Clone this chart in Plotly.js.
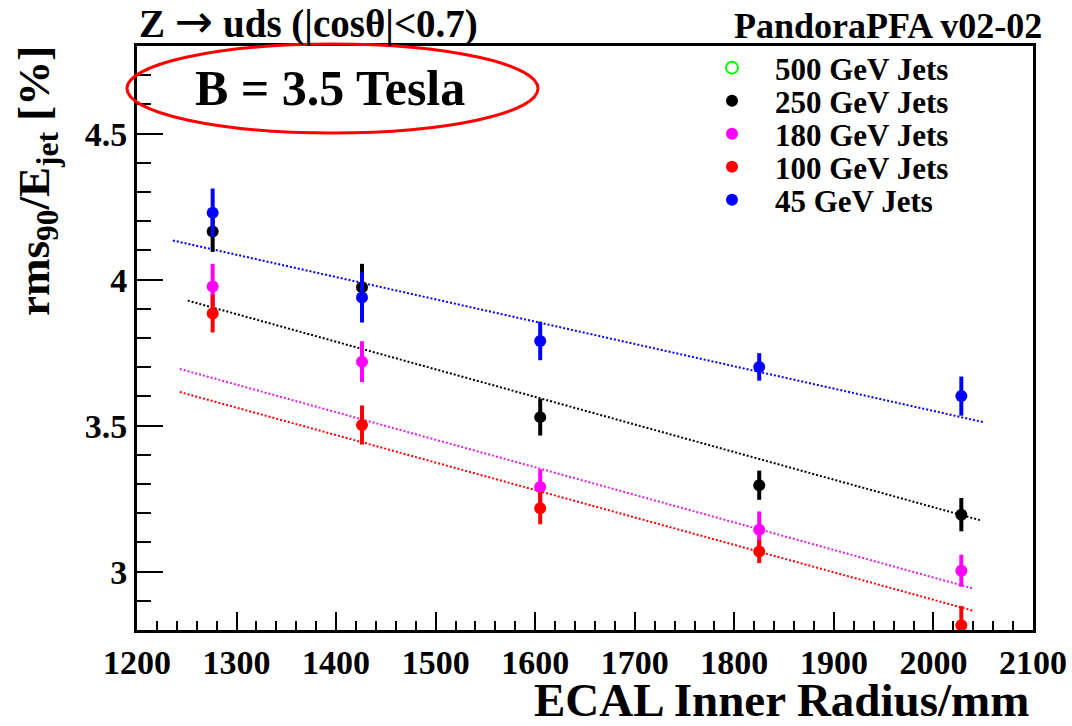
<!DOCTYPE html>
<html>
<head>
<meta charset="utf-8">
<script src="https://cdn.plot.ly/plotly-3.0.1.min.js"></script>
<style>html,body{margin:0;padding:0;background:#fff;}#chart{width:1072px;height:726px;}</style>
</head>
<body>
<div id="chart"></div>
<script>
// ---- data ----
const radius = [1276, 1426, 1605, 1825, 2028];
const seriesNames = ["500 GeV Jets", "250 GeV Jets", "180 GeV Jets", "100 GeV Jets", "45 GeV Jets"];
// 500 GeV: listed in the legend only, no points inside the plotted range
const x500 = [null];
const y500 = [null];
const y250 = [4.165, 3.974, 3.529, 3.296, 3.195];
const e250 = [0.070, 0.080, 0.063, 0.050, 0.057];
const y180 = [3.976, 3.719, 3.290, 3.143, 3.003];
const e180 = [0.078, 0.070, 0.060, 0.063, 0.055];
const y100 = [3.884, 3.502, 3.217, 3.069, 2.816];
const e100 = [0.065, 0.067, 0.055, 0.040, 0.066];
const y45 = [4.229, 3.939, 3.790, 3.701, 3.601];
const e45 = [0.083, 0.086, 0.066, 0.047, 0.067];
// linear fit lines (end points)
const fitX250 = [1251, 2048], fitY250 = [3.928, 3.175];
const fitX180 = [1243, 2040], fitY180 = [3.694, 2.942];
const fitX100 = [1243, 2040], fitY100 = [3.615, 2.866];
const fitX45 = [1236, 2050], fitY45 = [4.134, 3.512];
const xTickVals = [1200, 1300, 1400, 1500, 1600, 1700, 1800, 1900, 2000, 2100];
const yTickVals = [3, 3.5, 4, 4.5];

// ---- layout helpers ----
const L = 137, R = 1033, T = 46, B = 630;
const fx = p => (p - L) / (R - L);
const fy = p => (B - p) / (B - T);
const FONT = "Liberation Serif, Times New Roman, serif";

function fit(x, y, color) {
  return {x: x, y: y, type: "scatter", mode: "lines", showlegend: false, hoverinfo: "skip",
    line: {color: color, width: 2, dash: "2px,2px"}};
}
function pts(name, y, e, color, leg) {
  return {x: radius, y: y, name: name, type: "scatter", mode: "markers", legend: leg,
    marker: {color: color, size: 12, symbol: "circle"},
    error_y: {type: "data", array: e, visible: true, color: color, thickness: 4, width: 0}};
}

const data = [
  fit(fitX45, fitY45, "#0000ff"),
  fit(fitX250, fitY250, "#000000"),
  fit(fitX180, fitY180, "#e020e0"),
  fit(fitX100, fitY100, "#ff0000"),
  {x: x500, y: y500, name: seriesNames[0], type: "scatter", mode: "markers", legend: "legend",
    marker: {color: "#00ff00", size: 12, symbol: "circle-open", line: {width: 2, color: "#00ff00"}}},
  pts(seriesNames[1], y250, e250, "#000000", "legend2"),
  pts(seriesNames[2], y180, e180, "#ff00ff", "legend3"),
  pts(seriesNames[3], y100, e100, "#ff0000", "legend4"),
  pts(seriesNames[4], y45, e45, "#0000ff", "legend5")
];

const axisCommon = {
  showline: true, linewidth: 3, linecolor: "#000", mirror: true,
  showgrid: false, zeroline: false, ticks: "inside", tickwidth: 2, tickcolor: "#000",
  tickfont: {family: FONT, size: 34, color: "#000", weight: "bold"}
};

function leg(rowY) {
  return {x: fx(689), y: fy(rowY), xanchor: "left", yanchor: "middle", bgcolor: "rgba(0,0,0,0)",
    borderwidth: 0, itemwidth: 76,
    font: {family: FONT, size: 31, color: "#000", weight: "bold"}};
}

const layout = {
  width: 1072, height: 726,
  margin: {l: L, r: 1072 - R, t: T, b: 726 - B, pad: 0},
  paper_bgcolor: "#fff", plot_bgcolor: "#fff",
  font: {family: FONT, color: "#000"},
  xaxis: Object.assign({}, axisCommon, {
    range: [1200, 2100], tickmode: "array", tickvals: xTickVals, ticklen: 18,
    minor: {dtick: 20, ticklen: 9, ticks: "inside", tickwidth: 2, tickcolor: "#000", showgrid: false}
  }),
  yaxis: Object.assign({}, axisCommon, {
    range: [2.8, 4.8], tickmode: "array", tickvals: yTickVals, ticklen: 26,
    minor: {dtick: 0.1, ticklen: 14, ticks: "inside", tickwidth: 2, tickcolor: "#000", showgrid: false}
  }),
  showlegend: true,
  legend: leg(68), legend2: leg(101), legend3: leg(134), legend4: leg(167), legend5: leg(200),
  shapes: [
    {type: "circle", xref: "paper", yref: "paper", x0: fx(127), x1: fx(538), y0: fy(133), y1: fy(44),
      line: {color: "#ff0000", width: 3}}
  ],
  annotations: [
    {text: "Z <span style=\"font-family:DejaVu Sans;font-size:46px;font-weight:normal\">→</span> uds (|cosθ|<0.7)",
      xref: "paper", yref: "paper", x: fx(137), y: fy(21),
      xanchor: "left", yanchor: "middle", showarrow: false,
      font: {family: FONT, size: 39, color: "#000", weight: "bold"}},
    {text: "PandoraPFA v02-02", xref: "paper", yref: "paper", x: fx(1044), y: fy(26),
      xanchor: "right", yanchor: "middle", showarrow: false,
      font: {family: FONT, size: 36, color: "#000", weight: "bold"}},
    {text: "B = 3.5 Tesla", xref: "paper", yref: "paper", x: fx(330), y: fy(88),
      xanchor: "center", yanchor: "middle", showarrow: false,
      font: {family: FONT, size: 50, color: "#000", weight: "bold"}},
    {text: "ECAL Inner Radius/mm", xref: "paper", yref: "paper", x: fx(1031), y: fy(700),
      xanchor: "right", yanchor: "middle", showarrow: false,
      font: {family: FONT, size: 47, color: "#000", weight: "bold"}},
    {text: "rms<sub>90</sub>/E<sub>jet</sub> [%]", xref: "paper", yref: "paper", x: fx(37), y: fy(181),
      xanchor: "center", yanchor: "middle", showarrow: false, textangle: -90,
      font: {family: FONT, size: 45, color: "#000", weight: "bold"}}
  ]
};

Plotly.newPlot("chart", data, layout, {displayModeBar: false, staticPlot: true});
</script>
</body>
</html>
